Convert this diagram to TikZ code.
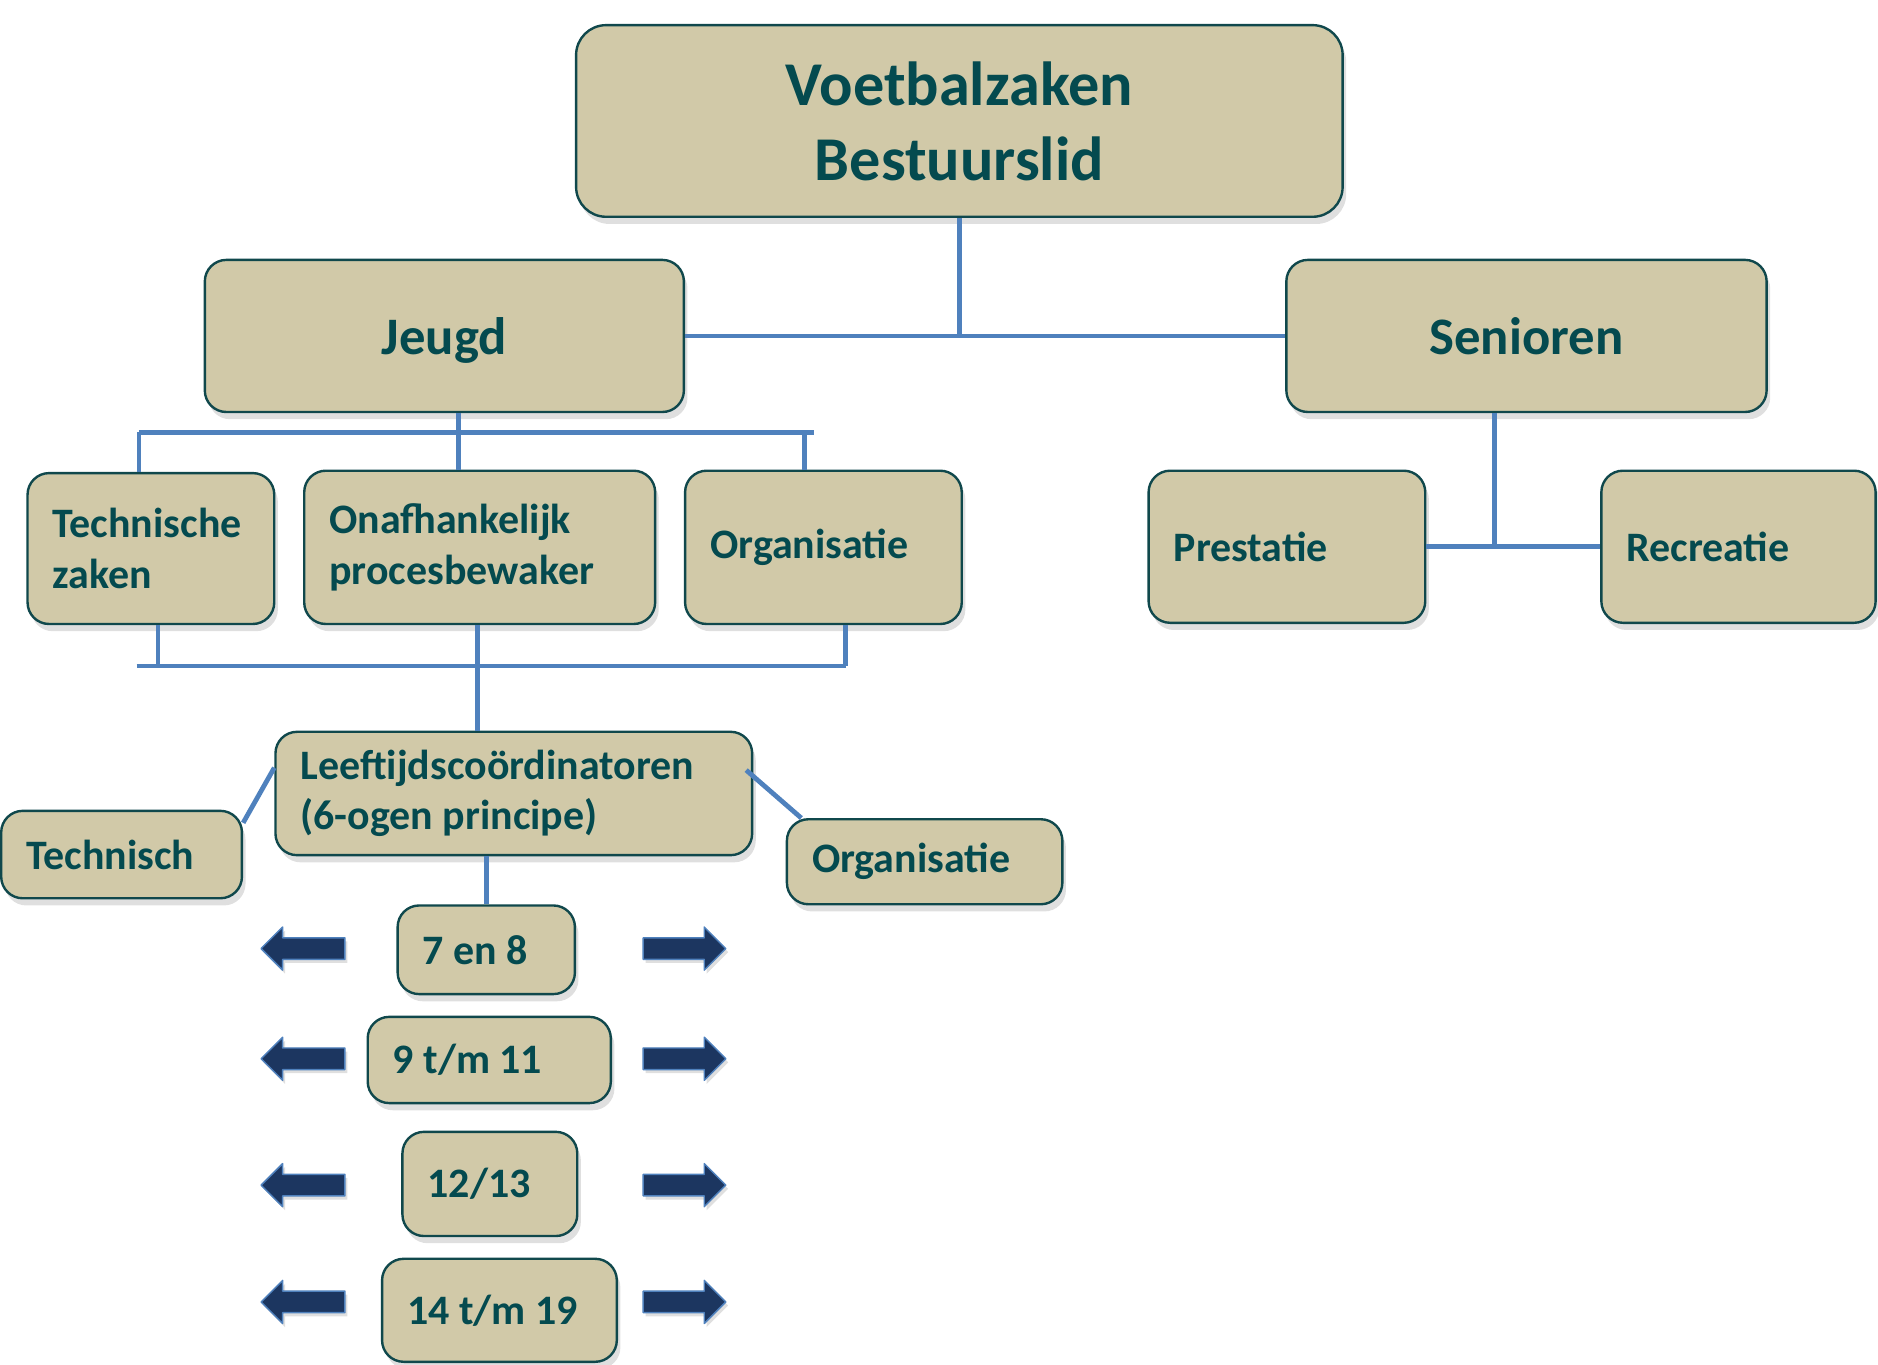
\documentclass[tikz,border=0pt]{standalone}
\usepackage{fontspec}
\setmainfont{Carlito}
\usetikzlibrary{shadows}
\definecolor{boxfill}{RGB}{209,201,168}
\definecolor{boxtxt}{RGB}{4,74,79}
\definecolor{boxline}{RGB}{16,72,76}
\definecolor{linkblue}{RGB}{79,129,189}
\definecolor{arrownavy}{RGB}{28,54,96}
\begin{document}
\begin{tikzpicture}[x=1pt, y=-1pt, line join=round,
  box/.style={draw=boxline, line width=2pt, fill=boxfill, rounded corners=18pt, text=boxtxt,
    font=\bfseries\fontsize{35}{42}\selectfont,
    drop shadow={shadow xshift=3pt, shadow yshift=-6pt, opacity=0.25}},
  lbox/.style 2 args={box, align=flush left, inner xsep=21pt, text width=#1, minimum height=#2},
  cbox/.style 2 args={box, align=center, text depth=0pt, minimum width=#1, minimum height=#2},
  conn/.style={draw=linkblue, line width=4pt, line cap=butt},
  blockarrow/.style={fill=arrownavy, draw=linkblue, line width=1.2pt,
    drop shadow={shadow xshift=2pt, shadow yshift=-3pt, opacity=0.25}}]
\useasboundingbox (0,0) rectangle (1568,1139);
% top level
\node[cbox={640pt}{160pt}, rounded corners=25pt, font=\bfseries\fontsize{52}{63}\selectfont] (bestuur) at (801,101) {Voetbalzaken\\Bestuurslid};
\node[cbox={400pt}{127pt}, font=\bfseries\fontsize{44}{53}\selectfont] (jeugd) at (371,280.5) {Jeugd};
\node[cbox={401pt}{127pt}, font=\bfseries\fontsize{44}{53}\selectfont] (senioren) at (1274.5,280.5) {Senioren};
% second row
\node[lbox={164pt}{126pt}] (techzaken) at (126,458) {Technische\\zaken};
\node[lbox={251pt}{128pt}] (proces) at (400.5,457) {Onafhankelijk\\procesbewaker};
\node[lbox={189pt}{128pt}] (orgjeugd) at (687.5,457) {Organisatie};
\node[lbox={189pt}{127pt}] (prestatie) at (1074.5,456.5) {Prestatie};
\node[lbox={187pt}{127pt}] (recreatie) at (1451.5,456.5) {Recreatie};
% leeftijdscoordinatoren
\node[lbox={356pt}{103pt}] (leeftijd) at (429,662.5) {Leeftijdscoördinatoren\\(6-ogen principe)};
\node[lbox={159pt}{73pt}] (technisch) at (101.5,713.5) {Technisch};
\node[lbox={188pt}{71pt}] (orgleeftijd) at (772,719.5) {Organisatie};
% leeftijdsgroepen
\node[lbox={106pt}{74pt}] (jo8) at (406,793) {7 en 8};
\node[lbox={161pt}{72pt}] (jo11) at (408.5,885) {9 t/m 11};
\node[lbox={104pt}{87pt}] (jo13) at (409,988.5) {12/13};
\node[lbox={154pt}{86pt}] (jo19) at (417,1094) {14 t/m 19};
% block arrows
\foreach \y in {792,884,989.5,1087}{
  \filldraw[blockarrow] (288,\y-9) -- (236,\y-9) -- (236,\y-18) -- (218,\y) -- (236,\y+18) -- (236,\y+9) -- (288,\y+9) -- cycle;
  \filldraw[blockarrow] (537,\y-9) -- (588,\y-9) -- (588,\y-18) -- (606,\y) -- (588,\y+18) -- (588,\y+9) -- (537,\y+9) -- cycle;
}
% connectors
\coordinate (hub) at (801,282);
\draw[conn] (bestuur.south) -- (hub);
\draw[conn] (jeugd.east) -- (senioren.west);
\coordinate (jl) at (116,361);
\coordinate (jm) at (383,361);
\coordinate (jrt) at (672,361);
\coordinate (jr) at (680,361);
\draw[conn] (jl) -- (jr);
\draw[conn] (jl) -- (techzaken.north -| jl);
\draw[conn] (jeugd.south -| jm) -- (proces.north -| jm);
\draw[conn] (jrt) -- (orgjeugd.north -| jrt);
\coordinate (bl) at (114,556);
\coordinate (bt1) at (132,556);
\coordinate (bt2) at (399,556);
\coordinate (br) at (706,556);
\draw[conn] (bl) -- (br);
\draw[conn] (techzaken.south -| bt1) -- (bt1);
\draw[conn] (proces.south -| bt2) -- (leeftijd.north -| bt2);
\draw[conn] (orgjeugd.south -| br) -- (br);
\draw[conn] ([yshift=-11pt]technisch.north east) -- ([yshift=21.5pt]leeftijd.west);
\draw[conn] ([xshift=-6pt,yshift=19.5pt]leeftijd.east) -- ([xshift=13pt]orgleeftijd.north west);
\draw[conn] (leeftijd.south -| jo8.north) -- (jo8.north);
\coordinate (sh) at (1248,456.5);
\draw[conn] (senioren.south -| sh) -- (sh);
\draw[conn] (prestatie.east) -- (recreatie.west);
\end{tikzpicture}
\end{document}
